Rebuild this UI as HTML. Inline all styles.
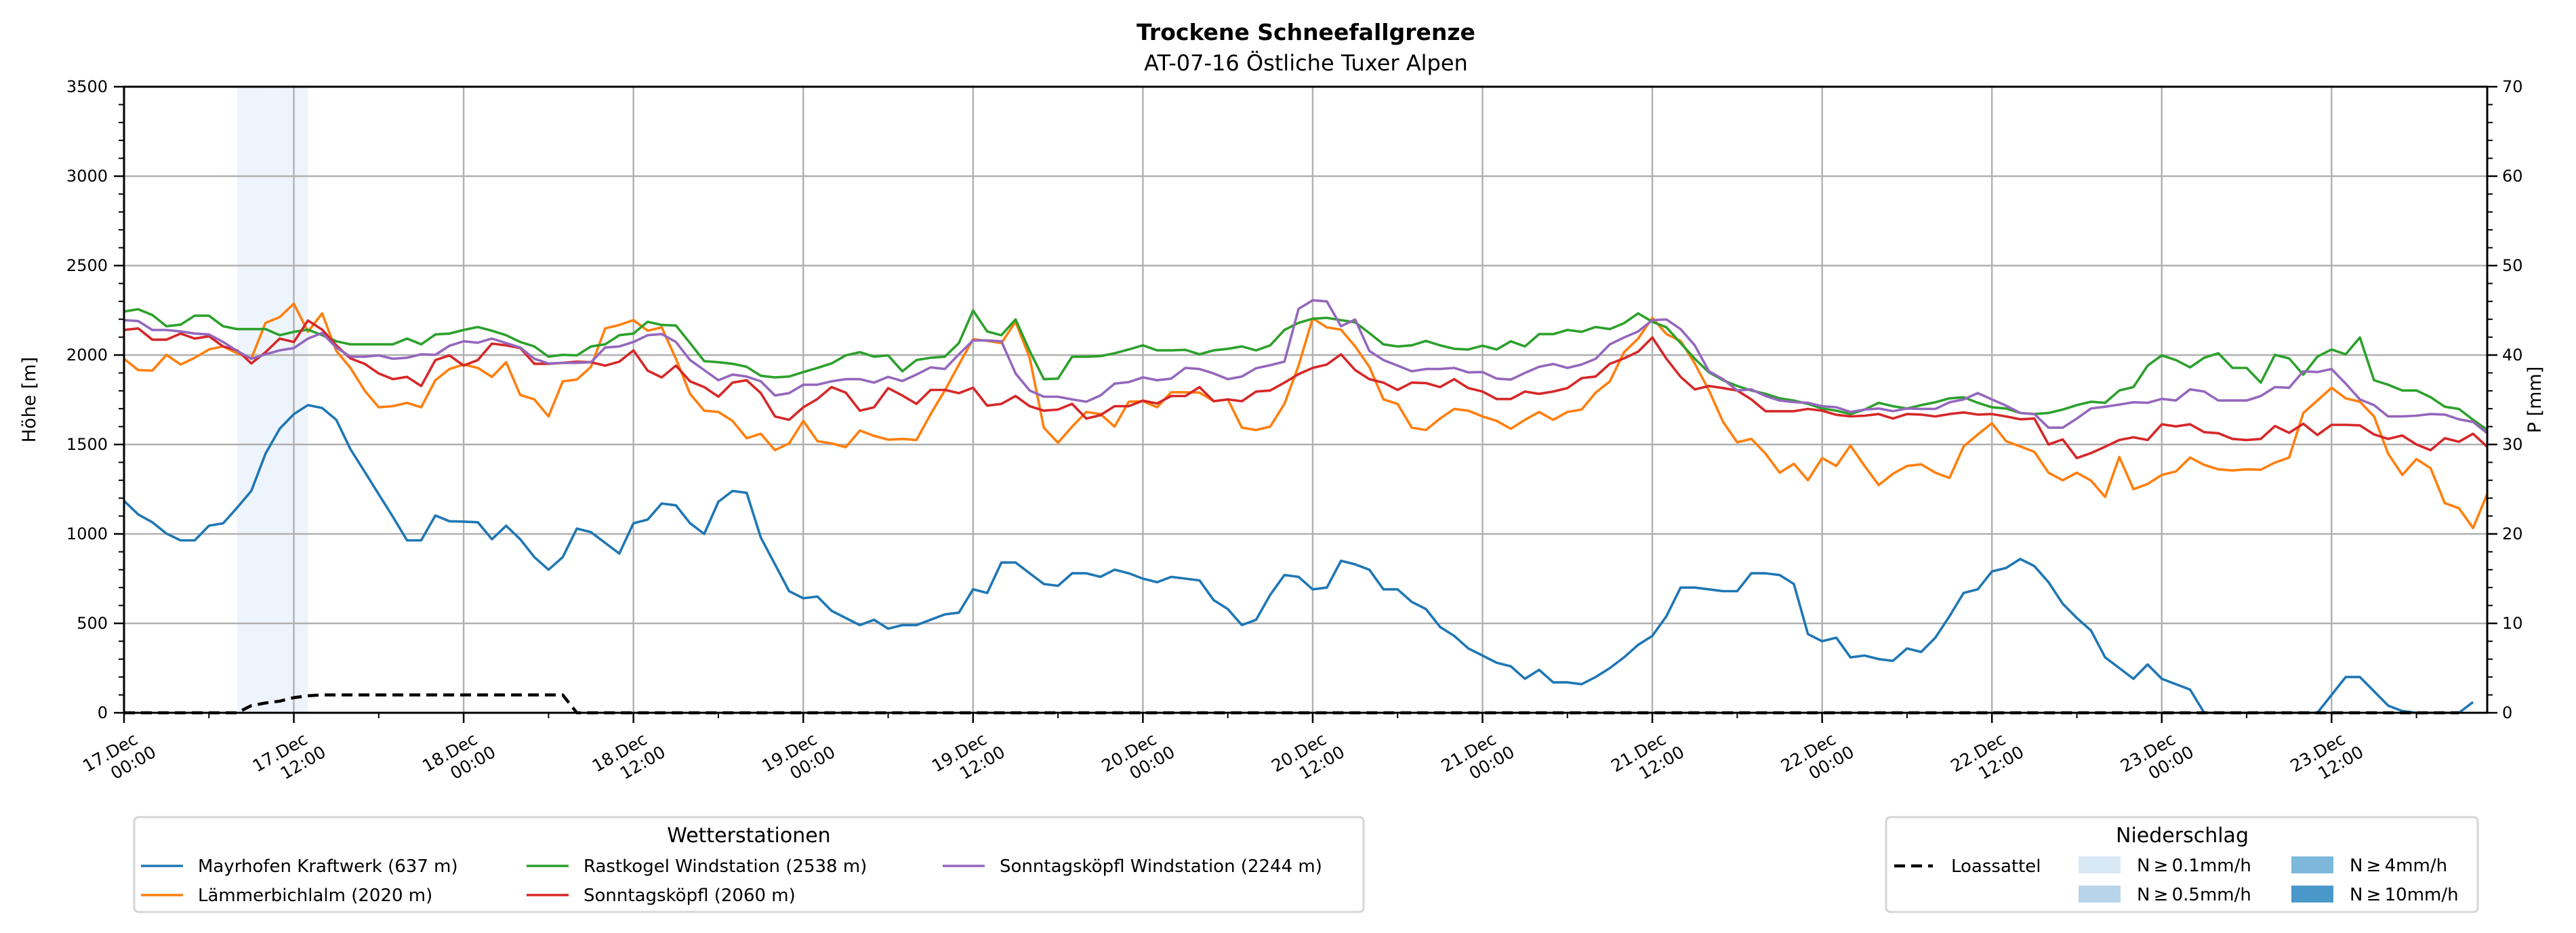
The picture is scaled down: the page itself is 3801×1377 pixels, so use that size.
<!DOCTYPE html>
<html><head><meta charset="utf-8"><style>
html,body{margin:0;padding:0;background:#fff;}
svg{display:block;font-family:"DejaVu Sans","Liberation Sans",sans-serif;}
</style></head><body>
<svg id="chart" width="3801" height="1377" viewBox="0 0 3801 1377" xmlns="http://www.w3.org/2000/svg">
<g id="bg"></g><g id="grid"></g><g id="series"></g><g id="axes"></g><g id="legend"></g>
</svg>
<script>
const hours = Array.from({length:168},(_,i)=>i);
const mayrhofen = [1185,1109,1065,1002,964,964,1046,1059,1147,1241,1449,1588,1670,1720,1704,1638,1474,1348,1222,1096,964,964,1103,1071,1069,1065,970,1046,970,870,800,870,1030,1010,950,890,1060,1080,1170,1160,1060,1000,1180,1240,1230,980,830,680,640,650,570,530,490,520,470,490,490,520,550,560,690,670,840,840,780,720,710,780,780,760,800,780,750,730,760,750,740,630,580,490,520,660,770,760,690,700,850,830,800,690,690,620,580,480,430,360,320,280,260,190,240,170,170,160,200,250,310,380,430,540,700,700,690,680,680,780,780,770,720,440,400,420,310,320,300,290,360,340,420,540,670,690,790,810,860,820,730,610,530,460,310,250,190,270,190,160,130,0,0,0,0,0,0,0,0,0,100,200,200,120,40,10,0,0,0,0,60];
const laemmer = [1979,1916,1913,2001,1947,1985,2031,2048,2010,1981,2180,2212,2287,2130,2233,2023,1928,1802,1708,1714,1733,1708,1859,1922,1947,1928,1878,1960,1777,1752,1657,1853,1863,1934,2149,2168,2195,2136,2155,1979,1783,1689,1682,1632,1535,1560,1468,1506,1632,1519,1506,1485,1578,1548,1527,1531,1525,1670,1802,1947,2089,2079,2067,2186,1985,1594,1510,1600,1682,1670,1600,1739,1742,1708,1792,1792,1790,1742,1752,1594,1581,1600,1727,1941,2205,2155,2142,2048,1934,1752,1727,1594,1581,1645,1699,1689,1657,1632,1588,1638,1682,1638,1682,1695,1790,1853,2016,2092,2208,2117,2079,1953,1802,1626,1512,1531,1449,1342,1392,1300,1424,1380,1494,1380,1273,1336,1380,1389,1342,1313,1489,1556,1619,1518,1489,1459,1342,1300,1342,1298,1207,1430,1250,1279,1330,1349,1427,1386,1361,1355,1361,1359,1399,1427,1676,1746,1817,1758,1739,1657,1449,1330,1418,1367,1172,1144,1033,1223];
const rastkogel = [2243,2256,2224,2161,2170,2220,2220,2161,2145,2145,2145,2111,2130,2142,2111,2077,2060,2060,2060,2060,2092,2060,2115,2120,2140,2157,2136,2111,2073,2048,1991,2001,1998,2048,2060,2111,2120,2186,2168,2165,2067,1966,1960,1951,1934,1884,1875,1880,1905,1928,1953,1998,2016,1991,1998,1909,1972,1985,1991,2067,2249,2132,2111,2199,2023,1865,1868,1991,1991,1994,2010,2031,2054,2026,2026,2029,2004,2026,2035,2048,2026,2054,2140,2180,2203,2208,2195,2183,2123,2060,2048,2054,2079,2054,2035,2031,2052,2031,2077,2048,2117,2117,2140,2130,2157,2145,2178,2233,2186,2155,2067,1979,1903,1859,1827,1802,1783,1758,1746,1727,1701,1689,1670,1695,1733,1714,1701,1720,1736,1758,1764,1733,1708,1701,1676,1670,1676,1695,1720,1739,1733,1802,1821,1941,1998,1972,1931,1985,2010,1928,1928,1846,2001,1981,1890,1991,2031,2004,2098,1859,1834,1802,1802,1764,1711,1699,1638,1582];
const sonntag = [2140,2149,2086,2086,2120,2092,2105,2048,2026,1953,2016,2092,2073,2193,2142,2054,1981,1951,1897,1865,1878,1827,1972,1998,1941,1972,2064,2054,2039,1951,1951,1956,1963,1960,1941,1963,2026,1913,1875,1941,1853,1821,1767,1846,1859,1787,1657,1638,1708,1754,1821,1790,1689,1708,1815,1774,1727,1805,1805,1787,1817,1717,1727,1771,1714,1689,1695,1727,1645,1664,1714,1714,1745,1729,1771,1771,1821,1742,1752,1742,1796,1802,1846,1893,1928,1947,2004,1916,1865,1846,1805,1846,1843,1821,1865,1815,1796,1754,1754,1796,1783,1796,1815,1871,1880,1951,1981,2019,2098,1979,1878,1808,1827,1815,1802,1752,1686,1686,1686,1699,1689,1666,1657,1661,1670,1645,1670,1667,1657,1670,1679,1667,1670,1657,1641,1645,1500,1528,1424,1452,1487,1525,1540,1525,1613,1601,1613,1569,1563,1531,1525,1531,1603,1565,1616,1553,1610,1610,1607,1556,1531,1550,1500,1468,1535,1515,1560,1487];
const sonntagWind = [2195,2190,2140,2140,2132,2120,2115,2073,2023,1979,2004,2026,2039,2092,2123,2042,1991,1991,1998,1979,1985,2004,2001,2052,2077,2069,2092,2067,2042,1979,1953,1956,1956,1960,2042,2048,2073,2111,2117,2073,1972,1916,1859,1891,1880,1853,1774,1787,1834,1834,1853,1865,1865,1846,1878,1855,1891,1931,1922,2004,2082,2082,2077,1897,1802,1767,1767,1752,1739,1774,1840,1849,1875,1859,1868,1928,1922,1897,1865,1880,1926,1943,1963,2258,2306,2300,2161,2199,2023,1972,1941,1909,1922,1922,1928,1903,1905,1868,1863,1900,1934,1950,1928,1947,1979,2060,2098,2132,2195,2199,2145,2054,1909,1865,1802,1808,1771,1746,1737,1733,1714,1708,1682,1695,1701,1686,1701,1699,1699,1736,1752,1787,1752,1717,1676,1670,1594,1594,1645,1701,1711,1723,1736,1733,1755,1746,1808,1796,1746,1746,1746,1771,1821,1817,1909,1905,1922,1840,1752,1720,1657,1657,1661,1670,1667,1641,1626,1563];
const loassattel = [0,0,0,0,0,0,0,0,0,40,55,65,85,95,100,100,100,100,100,100,100,100,100,100,100,100,100,100,100,100,100,100,0,0,0,0,0,0,0,0,0,0,0,0,0,0,0,0,0,0,0,0,0,0,0,0,0,0,0,0,0,0,0,0,0,0,0,0,0,0,0,0,0,0,0,0,0,0,0,0,0,0,0,0,0,0,0,0,0,0,0,0,0,0,0,0,0,0,0,0,0,0,0,0,0,0,0,0,0,0,0,0,0,0,0,0,0,0,0,0,0,0,0,0,0,0,0,0,0,0,0,0,0,0,0,0,0,0,0,0,0,0,0,0,0,0,0,0,0,0,0,0,0,0,0,0,0,0,0,0,0,0,0,0,0,0];
const precipHours = [8,9,10,11,12];
const precipValues = [0.2,0.2,0.2,0.2,0.2];
const yTicks = [0,500,1000,1500,2000,2500,3000,3500];
const pTicks = [0,10,20,30,40,50,60,70];
const xTickHours = [0,12,24,36,48,60,72,84,96,108,120,132,144,156];
const xTickLine1 = ["17.Dec","17.Dec","18.Dec","18.Dec","19.Dec","19.Dec","20.Dec","20.Dec","21.Dec","21.Dec","22.Dec","22.Dec","23.Dec","23.Dec"];
const xTickLine2 = ["00:00","12:00","00:00","12:00","00:00","12:00","00:00","12:00","00:00","12:00","00:00","12:00","00:00","12:00"];

const NS="http://www.w3.org/2000/svg";
const L=183,R=3670,T=128,B=1052;
const X=h=>L+h*(R-L)/167;
const Y=v=>B-v*(B-T)/3500;
const YP=p=>B-p*(B-T)/70;
function mk(tag,attrs,parent,txt){const e=document.createElementNS(NS,tag);for(const k in attrs)e.setAttribute(k,attrs[k]);if(txt!==undefined)e.textContent=txt;parent.appendChild(e);return e;}
const gBg=document.getElementById('bg'),gGrid=document.getElementById('grid'),gS=document.getElementById('series'),gA=document.getElementById('axes'),gL=document.getElementById('legend');
const svg=document.getElementById('chart');

precipHours.forEach((h,i)=>{const v=precipValues[i];const c=v>=10?'#4a97c9':v>=4?'#7db8da':v>=0.5?'#b8d4ea':'#eef4fb';
 const r=mk('rect',{x:X(h),y:T,width:X(h+1)-X(h),height:B-T,fill:c},gBg);
 
 });

yTicks.forEach(v=>{const l=mk('line',{x1:L,x2:R,y1:Y(v),y2:Y(v),stroke:'#b0b0b0','stroke-width':2.4},gGrid);
 
 });
xTickHours.forEach(h=>{const l=mk('line',{x1:X(h),x2:X(h),y1:T,y2:B,stroke:'#b0b0b0','stroke-width':2.4},gGrid);
 
 });

function line(vals,color,name,dash){const pts=vals.map((v,i)=>X(hours[i]).toFixed(1)+','+Y(v).toFixed(1)).join(' ');
 const p=mk('polyline',{points:pts,fill:'none',stroke:color,'stroke-width':dash?4.5:3.6,'stroke-linejoin':'round'},gS);
 if(dash)p.setAttribute('stroke-dasharray','16,9');
 
 }
line(mayrhofen,'#1f77b4','mayrhofen-line');
line(laemmer,'#ff7f0e','laemmerbichlalm-line');
line(rastkogel,'#2ca02c','rastkogel-line');
line(sonntag,'#d62728','sonntagskoepfl-line');
line(sonntagWind,'#9467bd','sonntagskoepfl-wind-line');
line(loassattel,'#000','loassattel-line',true);

const fr=mk('rect',{x:L,y:T,width:R-L,height:B-T,fill:'none',stroke:'#000','stroke-width':3},gA);


const fs=24;
yTicks.forEach(v=>{mk('line',{x1:L-15,x2:L,y1:Y(v),y2:Y(v),stroke:'#000','stroke-width':2.5},gA);
 const t=mk('text',{x:L-24,y:Y(v)+8,'text-anchor':'end','font-size':fs},gA,String(v));
 
 });
for(let v=100;v<3500;v+=100){if(v%500)mk('line',{x1:L-8,x2:L,y1:Y(v),y2:Y(v),stroke:'#000','stroke-width':2},gA);}
pTicks.forEach(p=>{mk('line',{x1:R,x2:R+15,y1:YP(p),y2:YP(p),stroke:'#000','stroke-width':2.5},gA);
 const t=mk('text',{x:R+22,y:YP(p)+8,'text-anchor':'start','font-size':fs},gA,String(p));
 
 });
for(let p=2;p<70;p+=2){if(p%10)mk('line',{x1:R,x2:R+8,y1:YP(p),y2:YP(p),stroke:'#000','stroke-width':2},gA);}
xTickHours.forEach((h,i)=>{mk('line',{x1:X(h),x2:X(h),y1:B,y2:B+15,stroke:'#000','stroke-width':2.5},gA);
 mk('line',{x1:X(h+6),x2:X(h+6),y1:B,y2:B+8,stroke:'#000','stroke-width':2},gA);
 const t=mk('text',{transform:`translate(${X(h)+22},${B+44}) rotate(-30)`,'text-anchor':'end','font-size':25},gA);
 
 
 mk('tspan',{x:0,dy:0},t,xTickLine1[i]);
 mk('tspan',{x:14,dy:30},t,xTickLine2[i]);});
let t;
t=mk('text',{x:1927,y:59,'text-anchor':'middle','font-size':33,'font-weight':'bold'},svg,'Trockene Schneefallgrenze');

t=mk('text',{x:1927,y:104,'text-anchor':'middle','font-size':32},svg,'AT-07-16 Östliche Tuxer Alpen');

t=mk('text',{transform:'translate(52,590) rotate(-90)','text-anchor':'middle','font-size':27},svg,'Höhe [m]');

t=mk('text',{transform:'translate(3749,590) rotate(-90)','text-anchor':'middle','font-size':27},svg,'P [mm]');


const lg1=mk('g',{},gL);

mk('rect',{x:198,y:1206,width:1814,height:140,rx:6,fill:'#fff',stroke:'#d5d5d5','stroke-width':3},lg1);
mk('text',{x:1105,y:1243,'text-anchor':'middle','font-size':30},lg1,'Wetterstationen');
const ent=[[208,1278,'#1f77b4','Mayrhofen Kraftwerk (637 m)'],[208,1321,'#ff7f0e','Lämmerbichlalm (2020 m)'],[777,1278,'#2ca02c','Rastkogel Windstation (2538 m)'],[777,1321,'#d62728','Sonntagsköpfl (2060 m)'],[1391,1278,'#9467bd','Sonntagsköpfl Windstation (2244 m)']];
ent.forEach(e=>{const g=mk('g',{},lg1);
 
 mk('line',{x1:e[0],x2:e[0]+62,y1:e[1],y2:e[1],stroke:e[2],'stroke-width':3.6},g);
 mk('text',{x:e[0]+84,y:e[1]+9,'font-size':26},g,e[3]);});
const lg2=mk('g',{},gL);

mk('rect',{x:2783,y:1206,width:873,height:140,rx:6,fill:'#fff',stroke:'#d5d5d5','stroke-width':3},lg2);
mk('text',{x:3220,y:1243,'text-anchor':'middle','font-size':30},lg2,'Niederschlag');
let g=mk('g',{},lg2);
mk('line',{x1:2795,x2:2852,y1:1278,y2:1278,stroke:'#000','stroke-width':4.5,'stroke-dasharray':'16,9'},g);
mk('text',{x:2879,y:1287,'font-size':26},g,'Loassattel');
[[3067,1264,'#d9e8f5','N\u2009≥\u20090.1mm/h'],[3067,1307,'#b8d4ea','N\u2009≥\u20090.5mm/h'],[3381,1264,'#7db8da','N\u2009≥\u20094mm/h'],[3381,1307,'#4a97c9','N\u2009≥\u200910mm/h']].forEach(e=>{
 const gg=mk('g',{},lg2);
 
 mk('rect',{x:e[0],y:e[1],width:62,height:25,fill:e[2]},gg);
 mk('text',{x:e[0]+86,y:e[1]+22,'font-size':26},gg,e[3]);});
</script>
</body></html>
